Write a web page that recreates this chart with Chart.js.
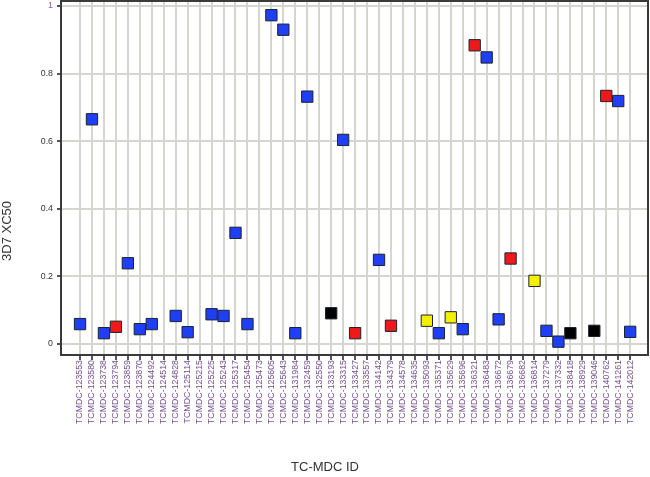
<!DOCTYPE html>
<html>
<head>
<meta charset="utf-8">
<script src="https://cdn.jsdelivr.net/npm/chart.js@4"></script>
<style>
  html, body { margin: 0; padding: 0; background: #fff; }
  #wrap { width: 650px; height: 477px; }
</style>
</head>
<body>
<div id="wrap"><canvas id="myChart" width="650" height="477"></canvas></div>
<script>
const categories = ['TCMDC-123553', 'TCMDC-123580', 'TCMDC-123738', 'TCMDC-123794', 'TCMDC-123859', 'TCMDC-123870',
    'TCMDC-124492', 'TCMDC-124514', 'TCMDC-124828', 'TCMDC-125114', 'TCMDC-125215', 'TCMDC-125225',
    'TCMDC-125243', 'TCMDC-125317', 'TCMDC-125454', 'TCMDC-125473', 'TCMDC-125605', 'TCMDC-125643',
    'TCMDC-131984', 'TCMDC-132459', 'TCMDC-132550', 'TCMDC-133193', 'TCMDC-133315', 'TCMDC-133427',
    'TCMDC-133557', 'TCMDC-134142', 'TCMDC-134379', 'TCMDC-134578', 'TCMDC-134635', 'TCMDC-135093',
    'TCMDC-135371', 'TCMDC-135629', 'TCMDC-135696', 'TCMDC-136321', 'TCMDC-136483', 'TCMDC-136672',
    'TCMDC-136679', 'TCMDC-136682', 'TCMDC-136814', 'TCMDC-137279', 'TCMDC-137332', 'TCMDC-138418',
    'TCMDC-138929', 'TCMDC-139046', 'TCMDC-140762', 'TCMDC-141261', 'TCMDC-142012'];

// 3D7 XC50 per compound, null = no point
const xc50 = [0.059, 0.665, 0.032, 0.051, 0.239, 0.044, 0.059, null, 0.083, 0.035, null, 0.088,
    0.083, 0.329, 0.059, null, 0.973, 0.930, 0.032, 0.732, null, 0.091, 0.604, 0.032,
    null, 0.249, 0.054, null, null, 0.069, 0.032, 0.079, 0.044, 0.884, 0.848, 0.073,
    0.253, null, 0.187, 0.039, 0.007, 0.032, null, 0.039, 0.734, 0.719, 0.036];

// marker class: B blue, R red, Y yellow, K black
const groups = ['B', 'B', 'B', 'R', 'B', 'B', 'B', '', 'B', 'B', '', 'B',
    'B', 'B', 'B', '', 'B', 'B', 'B', 'B', '', 'K', 'B', 'R',
    '', 'B', 'R', '', '', 'Y', 'B', 'Y', 'B', 'R', 'B', 'B',
    'R', '', 'Y', 'B', 'B', 'K', '', 'K', 'R', 'B', 'B'];

const yTicks = [0, 0.2, 0.4, 0.6, 0.8, 1];

const groupColors = { B: '#1f3ff5', R: '#f01818', Y: '#f5f000', K: '#000000' };

const points = [];
const fills = [];
xc50.forEach((v, i) => {
    if (v === null) return;
    points.push({ x: i, y: v });
    fills.push(groupColors[groups[i]]);
});

const framePlugin = {
    id: 'frame',
    afterDraw(chart) {
        const { ctx, chartArea: a } = chart;
        ctx.save();
        ctx.strokeStyle = '#3a3a3a';
        ctx.lineWidth = 2;
        ctx.strokeRect(a.left, a.top, a.right - a.left, a.bottom - a.top);
        ctx.fillStyle = '#333';
        ctx.font = '13px "Liberation Sans", Arial, sans-serif';
        ctx.textAlign = 'center';
        ctx.textBaseline = 'middle';
        ctx.fillText('TC-MDC ID', 325, 467);
        ctx.translate(7, 231);
        ctx.rotate(-Math.PI / 2);
        ctx.fillText('3D7 XC50', 0, 0);
        ctx.restore();
    }
};

const tickFont = { family: '"Liberation Sans", Arial, sans-serif', size: 8.8 };

const ctx = document.getElementById('myChart');
const myChart = new Chart(ctx, {
    type: 'scatter',
    data: {
        datasets: [{
            data: points,
            pointStyle: 'rect',
            pointRadius: 8,
            pointHoverRadius: 8,
            backgroundColor: fills,
            borderColor: '#1c2230',
            borderWidth: 1
        }]
    },
    options: {
        responsive: false,
        animation: false,
        layout: { autoPadding: false, padding: { top: 1, right: 2, left: 0, bottom: 0 } },
        scales: {
            x: {
                type: 'linear',
                min: -1.59,
                max: 47.49,
                afterBuildTicks: (scale) => {
                    scale.ticks = categories.map((c, i) => ({ value: i }));
                },
                afterFit: (scale) => {
                    scale.height = 122;
                    scale.paddingLeft = 0;
                    scale.paddingRight = 0;
                },
                grid: {
                    color: '#d6d6d0',
                    lineWidth: 2,
                    tickColor: '#555',
                    tickLength: 5,
                    drawTicks: true
                },
                border: { display: false },
                ticks: {
                    autoSkip: false,
                    maxRotation: 90,
                    minRotation: 90,
                    padding: 0,
                    color: '#74508f',
                    font: tickFont,
                    callback: (v) => categories[v]
                }
            },
            y: {
                min: -0.0325,
                max: 1.015,
                afterBuildTicks: (scale) => {
                    scale.ticks = yTicks.map(v => ({ value: v }));
                },
                afterFit: (scale) => {
                    scale.width = 61;
                    scale.paddingTop = 0;
                    scale.paddingBottom = 0;
                },
                grid: {
                    color: '#d6d6d0',
                    lineWidth: 2,
                    tickColor: '#555',
                    tickLength: 4
                },
                border: { display: false },
                ticks: {
                    padding: 4,
                    color: (c) => c.tick && c.tick.value === 1 ? '#9a55b8' : '#333',
                    font: tickFont,
                    callback: (v) => String(v)
                }
            }
        },
        plugins: {
            legend: { display: false },
            tooltip: { enabled: false }
        }
    },
    plugins: [framePlugin]
});
</script>
</body>
</html>
